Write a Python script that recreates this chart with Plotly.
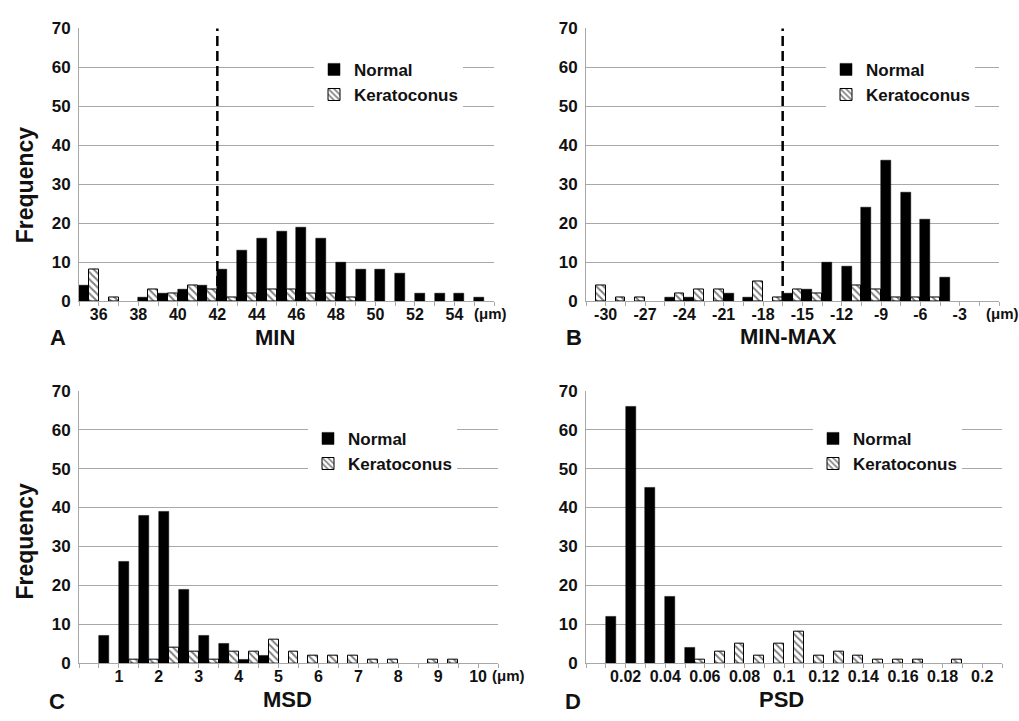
import plotly.graph_objects as go

W, H = 1019, 721
FONT = "Liberation Sans, Arial, Helvetica, sans-serif"

# ---------------- data ----------------
# A: MIN (µm), 1-µm bins (left edges)
min_bins = [35, 36, 37, 38, 39, 40, 41, 42, 43, 44, 45, 46, 47, 48, 49, 50, 51, 52, 53, 54, 55]
min_normal = [4, 0, 0, 1, 2, 3, 4, 8, 13, 16, 18, 19, 16, 10, 8, 8, 7, 2, 2, 2, 1]
min_kerato = [8, 1, 0, 3, 2, 4, 3, 1, 2, 3, 3, 2, 2, 1, 0, 0, 0, 0, 0, 0, 0]
min_width = 1
min_ticks = [36, 38, 40, 42, 44, 46, 48, 50, 52, 54]
min_ticktext = ["36", "38", "40", "42", "44", "46", "48", "50", "52", "54"]
min_cutoff = 42

# B: MIN-MAX (µm), 1.5-µm bins
minmax_bins = [-31.5, -30, -28.5, -27, -25.5, -24, -22.5, -21, -19.5, -18, -16.5,
               -15, -13.5, -12, -10.5, -9, -7.5, -6, -4.5, -3, -1.5]
minmax_normal = [0, 0, 0, 0, 1, 1, 0, 2, 1, 0, 2, 3, 10, 9, 24, 36, 28, 21, 6, 0, 0]
minmax_kerato = [4, 1, 1, 0, 2, 3, 3, 0, 5, 1, 3, 2, 0, 4, 3, 1, 1, 1, 0, 0, 0]
minmax_width = 1.5
minmax_ticks = [-30, -27, -24, -21, -18, -15, -12, -9, -6, -3]
minmax_ticktext = ["-30", "-27", "-24", "-21", "-18", "-15", "-12", "-9", "-6", "-3"]
minmax_cutoff = -16.5

# C: MSD (µm), 0.5-µm bins
msd_bins = [0, 0.5, 1, 1.5, 2, 2.5, 3, 3.5, 4, 4.5, 5, 5.5, 6, 6.5, 7, 7.5, 8, 8.5, 9, 9.5, 10]
msd_normal = [0, 7, 26, 38, 39, 19, 7, 5, 1, 2, 0, 0, 0, 0, 0, 0, 0, 0, 0, 0, 0]
msd_kerato = [0, 0, 1, 1, 4, 3, 1, 3, 3, 6, 3, 2, 2, 2, 1, 1, 0, 1, 1, 0, 0]
msd_width = 0.5
msd_ticks = [1, 2, 3, 4, 5, 6, 7, 8, 9, 10]
msd_ticktext = ["1", "2", "3", "4", "5", "6", "7", "8", "9", "10"]

# D: PSD, 0.01 bins
psd_bins = [0.00, 0.01, 0.02, 0.03, 0.04, 0.05, 0.06, 0.07, 0.08, 0.09, 0.10,
            0.11, 0.12, 0.13, 0.14, 0.15, 0.16, 0.17, 0.18, 0.19, 0.20]
psd_normal = [0, 12, 66, 45, 17, 4, 0, 0, 0, 0, 0, 0, 0, 0, 0, 0, 0, 0, 0, 0, 0]
psd_kerato = [0, 0, 0, 0, 0, 1, 3, 5, 2, 5, 8, 2, 3, 2, 1, 1, 1, 0, 1, 0, 0]
psd_width = 0.01
psd_ticks = [0.02, 0.04, 0.06, 0.08, 0.10, 0.12, 0.14, 0.16, 0.18, 0.20]
psd_ticktext = ["0.02", "0.04", "0.06", "0.08", "0.1", "0.12", "0.14", "0.16", "0.18", "0.2"]

y_ticks = [0, 10, 20, 30, 40, 50, 60, 70]

# --------------- layout helpers (pixel geometry) ---------------
def px(x):
    return x / W

def py(y):
    return 1 - y / H

panels = [
    dict(bins=min_bins, n=min_normal, k=min_kerato, w=min_width, tv=min_ticks, tt=min_ticktext,
         xd=(79, 494), yd=(300, 20), leg=(314, 44), cutoff=min_cutoff),
    dict(bins=minmax_bins, n=minmax_normal, k=minmax_kerato, w=minmax_width, tv=minmax_ticks, tt=minmax_ticktext,
         xd=(586, 999), yd=(300, 20), leg=(826, 44), cutoff=minmax_cutoff),
    dict(bins=msd_bins, n=msd_normal, k=msd_kerato, w=msd_width, tv=msd_ticks, tt=msd_ticktext,
         xd=(79, 498), yd=(672, 392), leg=(308, 423), cutoff=None),
    dict(bins=psd_bins, n=psd_normal, k=psd_kerato, w=psd_width, tv=psd_ticks, tt=psd_ticktext,
         xd=(586, 1002), yd=(672, 392), leg=(813, 423), cutoff=None),
]

GRID = "#a8a8a8"
fig = go.Figure()
shapes = []
layout = {}

for i, p in enumerate(panels, start=1):
    xa = "x" if i == 1 else f"x{i}"
    ya = "y" if i == 1 else f"y{i}"
    leg = "legend" if i == 1 else f"legend{i}"
    nvals = [v if v else None for v in p["n"]]
    kvals = [v if v else None for v in p["k"]]
    fig.add_trace(go.Bar(
        x=p["bins"], y=nvals, name="Normal", offset=0, width=p["w"] / 2,
        marker=dict(color="black", line=dict(color="black", width=0.5)),
        xaxis=xa, yaxis=ya, legend=leg, showlegend=True))
    fig.add_trace(go.Bar(
        x=p["bins"], y=kvals, name="Keratoconus", offset=p["w"] / 2, width=p["w"] / 2,
        marker=dict(color="white", line=dict(color="black", width=1),
                    pattern=dict(shape="\\", fgcolor="black", bgcolor="white", size=5, solidity=0.4)),
        xaxis=xa, yaxis=ya, legend=leg, showlegend=True))

    edges = list(p["bins"]) + [p["bins"][-1] + p["w"]]
    xkey = "xaxis" if i == 1 else f"xaxis{i}"
    ykey = "yaxis" if i == 1 else f"yaxis{i}"
    layout[xkey] = dict(
        domain=[px(p["xd"][0]), px(p["xd"][1])], anchor=ya,
        range=[edges[0], edges[-1]],
        tickmode="array", tickvals=p["tv"], ticktext=p["tt"],
        ticks="outside", ticklen=4, tickcolor=GRID, tickwidth=1,
        minor=dict(tickmode="array", tickvals=edges, ticks="outside", ticklen=4,
                   tickcolor=GRID, tickwidth=1, showgrid=False),
        showline=True, linecolor=GRID, linewidth=1, showgrid=False, zeroline=False,
        ticklabelstandoff=-5,
        tickfont=dict(family=FONT, size=16, color="#111", weight="bold"),
        fixedrange=True,
    )
    layout[ykey] = dict(
        domain=[py(p["yd"][0]), py(p["yd"][1])], anchor=xa,
        range=[0, 70], tickmode="array", tickvals=y_ticks,
        showline=True, linecolor=GRID, linewidth=1,
        showgrid=True, gridcolor=GRID, gridwidth=1, zeroline=False,
        ticks="", ticklabelstandoff=4,
        tickfont=dict(family=FONT, size=17, color="#111", weight="bold"),
        fixedrange=True,
    )
    layout[leg] = dict(
        x=px(p["leg"][0]), y=py(p["leg"][1]), xanchor="left", yanchor="top",
        bgcolor="white", borderwidth=0, orientation="v",
        font=dict(family=FONT, size=17, color="#111", weight="bold"),
        itemwidth=30, tracegroupgap=0,
    )
    if p["cutoff"] is not None:
        shapes.append(dict(type="line", xref=xa, yref=f"{ya} domain",
                           x0=p["cutoff"], x1=p["cutoff"], y0=0, y1=1,
                           line=dict(color="black", width=2.5, dash="10px,5px")))

def ann(text, x, y, size, angle=0):
    return dict(text=text, x=px(x), y=py(y), xref="paper", yref="paper",
                showarrow=False, textangle=angle, xanchor="center", yanchor="middle",
                font=dict(family=FONT, size=size, color="#111", weight="bold"))

annotations = [
    ann("Frequency", 25, 181, 23, -90),
    ann("Frequency", 25, 547, 23, -90),
    ann("MIN", 275, 337, 22),
    ann("MIN-MAX", 788, 336, 22),
    ann("MSD", 287, 709, 22),
    ann("PSD", 781, 709, 22),
    ann("A", 58, 337, 22),
    ann("B", 574, 337, 22),
    ann("C", 57, 711, 22),
    ann("D", 573, 711, 22),
    ann("(μm)", 490, 313, 15),
    ann("(μm)", 1002, 313, 15),
    ann("(μm)", 508, 685, 15),
]

fig.update_layout(
    width=W, height=H, autosize=False,
    margin=dict(l=0, r=0, t=0, b=0),
    paper_bgcolor="white", plot_bgcolor="white",
    barmode="overlay", bargap=0,
    shapes=shapes, annotations=annotations,
    **layout,
)

fig.write_html("out.html", config={"displayModeBar": False},
               post_script="document.body.style.margin='0';")
